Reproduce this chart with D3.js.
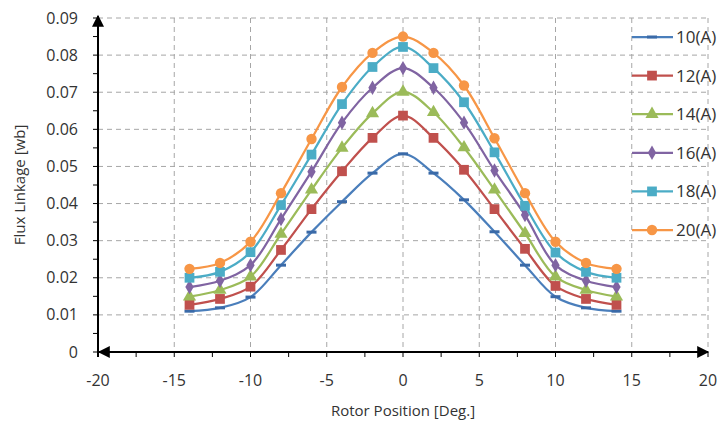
<!DOCTYPE html>
<html>
<head>
<meta charset="utf-8">
<script src="https://cdn.jsdelivr.net/npm/d3@7"></script>
<style>
  body { margin: 0; background: #fff; }
  text { font-family: "Open Sans", "Noto Sans", sans-serif; fill: #333; }
</style>
</head>
<body>
<div id="mainDiv"></div>
<script>
// Rotor position (deg.)
const positions = [-14, -12, -10, -8, -6, -4, -2, 0, 2, 4, 6, 8, 10, 12, 14];

// Flux linkage [wb] for each current
const flux10 = [0.0110, 0.0119, 0.0148, 0.0234, 0.0323, 0.0405, 0.0482, 0.0534, 0.0482, 0.0410, 0.0324, 0.0234, 0.0149, 0.0119, 0.0110];
const flux12 = [0.0127, 0.0143, 0.0176, 0.0275, 0.0385, 0.0487, 0.0577, 0.0637, 0.0577, 0.0491, 0.0385, 0.0278, 0.0178, 0.0143, 0.0127];
const flux14 = [0.0149, 0.0167, 0.0203, 0.0318, 0.0437, 0.0550, 0.0643, 0.0701, 0.0646, 0.0551, 0.0437, 0.0320, 0.0203, 0.0167, 0.0149];
const flux16 = [0.0175, 0.0192, 0.0234, 0.0358, 0.0486, 0.0618, 0.0712, 0.0765, 0.0712, 0.0618, 0.0489, 0.0369, 0.0234, 0.0192, 0.0175];
const flux18 = [0.0200, 0.0216, 0.0269, 0.0396, 0.0532, 0.0668, 0.0768, 0.0822, 0.0765, 0.0673, 0.0538, 0.0394, 0.0268, 0.0216, 0.0200];
const flux20 = [0.0224, 0.0240, 0.0297, 0.0428, 0.0574, 0.0714, 0.0806, 0.0850, 0.0806, 0.0718, 0.0576, 0.0428, 0.0297, 0.0240, 0.0224];

const seriesNames = ["10(A)", "12(A)", "14(A)", "16(A)", "18(A)", "20(A)"];
const seriesValues = [flux10, flux12, flux14, flux16, flux18, flux20];

const xTicks = [-20, -15, -10, -5, 0, 5, 10, 15, 20];
const yTicks = [0, 0.01, 0.02, 0.03, 0.04, 0.05, 0.06, 0.07, 0.08, 0.09];

// Colours and markers (Excel 2010 palette)
const colors = ["#4a7ebb", "#c0504d", "#9bbb59", "#8064a2", "#4bacc6", "#f79646"];
const markers = ["dash", "square", "triangle", "diamond", "square", "circle"];

let width = 724, height = 425;
let margin = { top: 18, right: 16, bottom: 73, left: 98 };
let plotW = width - margin.left - margin.right,
    plotH = height - margin.top - margin.bottom;

let svg = d3.select("#mainDiv").append("svg")
    .attr("width", width)
    .attr("height", height);

let defs = svg.append("defs");
defs.append("marker")
    .attr("id", "arrow")
    .attr("viewBox", "0 0 10 10")
    .attr("refX", 9).attr("refY", 5)
    .attr("markerWidth", 7).attr("markerHeight", 6)
    .attr("markerUnits", "strokeWidth")
    .attr("orient", "auto-start-reverse")
  .append("path")
    .attr("d", "M0,0 L10,5 L0,10 Z")
    .attr("fill", "#000");

let g = svg.append("g")
    .attr("transform", "translate(" + margin.left + "," + margin.top + ")");

let x = d3.scaleLinear().domain([-20, 20]).range([0, plotW]);
let y = d3.scaleLinear().domain([0, 0.09]).range([plotH, 0]);

// Dashed grid lines
g.append("g").selectAll("line")
    .data(yTicks.slice(1))
  .enter().append("line")
    .attr("x1", 0).attr("x2", plotW)
    .attr("y1", d => y(d)).attr("y2", d => y(d))
    .attr("stroke", "#a6a6a6").attr("stroke-width", 1)
    .attr("stroke-dasharray", "5,4");

g.append("g").selectAll("line")
    .data(xTicks.slice(1))
  .enter().append("line")
    .attr("y1", 0).attr("y2", plotH)
    .attr("x1", d => x(d)).attr("x2", d => x(d))
    .attr("stroke", "#a6a6a6").attr("stroke-width", 1)
    .attr("stroke-dasharray", "5,4");

// Minor ticks
let xMinor = d3.range(-20, 20.01, 2.5);
let yMinor = d3.range(0, 0.0901, 0.005);

g.append("g").selectAll("line")
    .data(xMinor)
  .enter().append("line")
    .attr("x1", d => x(d)).attr("x2", d => x(d))
    .attr("y1", plotH).attr("y2", plotH + 5)
    .attr("stroke", "#000").attr("stroke-width", 1);

g.append("g").selectAll("line")
    .data(yMinor)
  .enter().append("line")
    .attr("x1", -5).attr("x2", 0)
    .attr("y1", d => y(d)).attr("y2", d => y(d))
    .attr("stroke", "#000").attr("stroke-width", 1);

// Tick labels
g.append("g").selectAll("text")
    .data(xTicks)
  .enter().append("text")
    .attr("x", d => x(d))
    .attr("y", plotH + 34)
    .attr("text-anchor", "middle")
    .style("font-size", "16px")
    .text(d => d);

g.append("g").selectAll("text")
    .data(yTicks)
  .enter().append("text")
    .attr("x", -20)
    .attr("y", d => y(d))
    .attr("dy", "0.35em")
    .attr("text-anchor", "end")
    .style("font-size", "16px")
    .text(d => d === 0 ? "0" : d3.format(".2f")(d));

// Axis lines with arrows
g.append("line")
    .attr("x1", 1).attr("x2", plotW)
    .attr("y1", plotH).attr("y2", plotH)
    .attr("stroke", "#000").attr("stroke-width", 2)
    .attr("marker-start", "url(#arrow)")
    .attr("marker-end", "url(#arrow)");

g.append("line")
    .attr("x1", 0).attr("x2", 0)
    .attr("y1", plotH + 5).attr("y2", -2)
    .attr("stroke", "#000").attr("stroke-width", 2)
    .attr("marker-end", "url(#arrow)");

// Axis titles
svg.append("text")
    .attr("x", margin.left + x(0))
    .attr("y", 416)
    .attr("text-anchor", "middle")
    .style("font-size", "15px")
    .text("Rotor Position [Deg.]");

svg.append("text")
    .attr("transform", "translate(25," + (margin.top + plotH / 2) + ") rotate(-90)")
    .attr("text-anchor", "middle")
    .style("font-size", "15px")
    .text("Flux Linkage [wb]");

// Marker drawing
function drawMarker(sel, type, color) {
  if (type === "dash") {
    sel.append("rect")
      .attr("x", -5).attr("y", -1.5)
      .attr("width", 10).attr("height", 3)
      .attr("fill", "#3a6aa8");
    return;
  }
  let sym = { square: d3.symbolSquare, triangle: d3.symbolTriangle,
              diamond: d3.symbolDiamond, circle: d3.symbolCircle }[type];
  let size = { square: 95, triangle: 75, diamond: 60, circle: 85 }[type];
  sel.append("path")
    .attr("d", d3.symbol().type(sym).size(size))
    .attr("fill", color);
}

let line = d3.line()
    .x((d, i) => x(positions[i]))
    .y(d => y(d))
    .curve(d3.curveCatmullRom.alpha(0.5));

seriesValues.forEach(function(vals, s) {
  g.append("path")
    .datum(vals)
    .attr("fill", "none")
    .attr("stroke", colors[s])
    .attr("stroke-width", 2.25)
    .attr("d", line);

  let pts = g.append("g").selectAll("g")
      .data(vals)
    .enter().append("g")
      .attr("transform", (d, i) => "translate(" + x(positions[i]) + "," + y(d) + ")");
  drawMarker(pts, markers[s], colors[s]);
});

// Legend
let legend = svg.append("g");
seriesNames.forEach(function(name, s) {
  let ly = 37 + s * 38.6;
  let item = legend.append("g").attr("transform", "translate(632," + ly + ")");
  item.append("line")
    .attr("x1", 0).attr("x2", 41)
    .attr("stroke", colors[s]).attr("stroke-width", 2.25);
  let m = item.append("g").attr("transform", "translate(20,0)");
  drawMarker(m, markers[s], colors[s]);
  item.append("text")
    .attr("x", 44)
    .attr("dy", "0.35em")
    .style("font-size", "17px")
    .text(name);
});
</script>
</body>
</html>
